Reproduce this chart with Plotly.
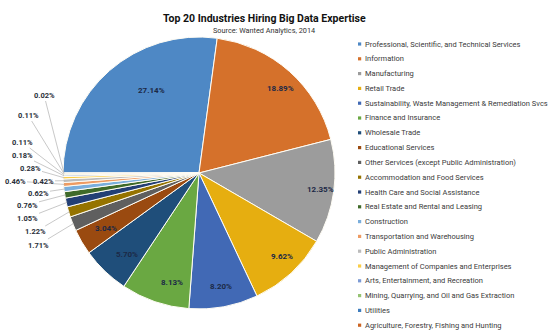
import math
import plotly.graph_objects as go

# Share of big-data job postings by industry (percent)
categories = [
    "Professional, Scientific, and Technical Services",
    "Information",
    "Manufacturing",
    "Retail Trade",
    "Sustainability, Waste Management & Remediation Svcs",
    "Finance and Insurance",
    "Wholesale Trade",
    "Educational Services",
    "Other Services (except Public Administration)",
    "Accommodation and Food Services",
    "Health Care and Social Assistance",
    "Real Estate and Rental and Leasing",
    "Construction",
    "Transportation and Warehousing",
    "Public Administration",
    "Management of Companies and Enterprises",
    "Arts, Entertainment, and Recreation",
    "Mining, Quarrying, and Oil and Gas Extraction",
    "Utilities",
    "Agriculture, Forestry, Fishing and Hunting",
]
shares = [27.14, 18.89, 12.35, 9.62, 8.20, 8.13, 5.70, 3.04, 1.71, 1.22,
          1.05, 0.76, 0.62, 0.46, 0.42, 0.28, 0.18, 0.11, 0.11, 0.02]
colors = ["#4E88C5", "#D5712B", "#9C9C9C", "#E6AE10", "#4169B5",
          "#6AA842", "#1F4E7A", "#9A4A10", "#5F5F5F", "#957300",
          "#233F75", "#3F6A29", "#7AAEDC", "#EE9B62", "#BBBBBB",
          "#FACD48", "#7C9AD5", "#95C373", "#3E7DBE", "#CC6422"]

TITLE = "Top 20 Industries Hiring Big Data Expertise"
SUBTITLE = "Source: Wanted Analytics, 2014"

# Canvas and pie geometry (pixels)
W, H = 554, 335
CX, CY, R = 199, 173, 136
START_DEG = 270          # first slice starts at 9 o'clock, clockwise
INSIDE_MIN = 3.0         # slices at least this big get an inside label
INSIDE_R = [0.80] + [0.90] * 19
INSIDE_SHIFT = [6] + [0] * 19   # angular nudge (deg) for inside labels
# label centres for the small slices, in slice order
OUTSIDE_POS = [(38, 245), (35, 232), (27, 218), (27, 205), (38, 193),
               (15, 181), (43, 181), (30, 168), (22, 155), (22, 142),
               (28, 115), (44, 95)]

FONT = "Roboto, Liberation Sans, sans-serif"


def px(x):
    return x / W


def py(y):
    return 1 - y / H


fig = go.Figure(go.Pie(
    labels=categories,
    values=shares,
    sort=False,
    direction="clockwise",
    rotation=START_DEG,
    textinfo="none",
    hoverinfo="label+percent",
    marker=dict(colors=colors, line=dict(color="#FFFDF5", width=1)),
    domain=dict(x=[px(CX - R), px(CX + R)], y=[py(CY + R), py(CY - R)]),
    showlegend=False,
))

annotations = []
shapes = []

total = sum(shares)
cum = 0.0
outside_iter = iter(OUTSIDE_POS)
for i, v in enumerate(shares):
    mid_deg = START_DEG + 360 * (cum + v / 2) / total
    cum += v
    label = f"{v:.2f}%"
    if v >= INSIDE_MIN:
        a = math.radians(mid_deg + INSIDE_SHIFT[i])
        rr = R * INSIDE_R[i]
        lx = CX + rr * math.sin(a)
        ly = CY - rr * math.cos(a)
        annotations.append(dict(
            x=px(lx), y=py(ly), xref="paper", yref="paper", text=label,
            showarrow=False,
            font=dict(family=FONT, size=8, color="#1C2946", weight="bold"),
        ))
    else:
        a = math.radians(mid_deg)
        tx = CX + (R - 1) * math.sin(a)
        ty = CY - (R - 1) * math.cos(a)
        lx, ly = next(outside_iter)
        annotations.append(dict(
            x=px(tx), y=py(ty), xref="paper", yref="paper", text=label,
            showarrow=True, arrowhead=0, arrowwidth=0.7, arrowcolor="#B0B0B0",
            ax=lx - tx, ay=ly - ty, axref="pixel", ayref="pixel",
            standoff=0, startstandoff=0,
            font=dict(family=FONT, size=7.5, color="#2A2F3A", weight="bold"),
        ))

# Title block
annotations.append(dict(
    x=px(264), y=py(10), xref="paper", yref="paper", text=TITLE,
    showarrow=False, font=dict(family=FONT, size=10.5, color="#111111",
                               weight="bold")))
annotations.append(dict(
    x=px(264), y=py(23.5), xref="paper", yref="paper", text=SUBTITLE,
    showarrow=False, font=dict(family=FONT, size=7.3, color="#333333")))

# Legend column drawn as small squares and text
LEG_X, LEG_Y0, LEG_DY = 358, 44, 14.8
for i, (name, col) in enumerate(zip(categories, colors)):
    yc = LEG_Y0 + i * LEG_DY
    shapes.append(dict(
        type="rect", xref="paper", yref="paper",
        x0=px(LEG_X), x1=px(LEG_X + 3.2), y0=py(yc + 1.6), y1=py(yc - 1.6),
        fillcolor=col, line=dict(width=0)))
    annotations.append(dict(
        x=px(LEG_X + 5), y=py(yc), xref="paper", yref="paper", text=name,
        xanchor="left", yanchor="middle", showarrow=False,
        font=dict(family=FONT, size=7.5, color="#3A3A3A")))

fig.update_layout(
    width=W, height=H,
    margin=dict(l=0, r=0, t=0, b=0),
    paper_bgcolor="white",
    plot_bgcolor="white",
    annotations=annotations,
    shapes=shapes,
)

fig.write_html("out.html")
